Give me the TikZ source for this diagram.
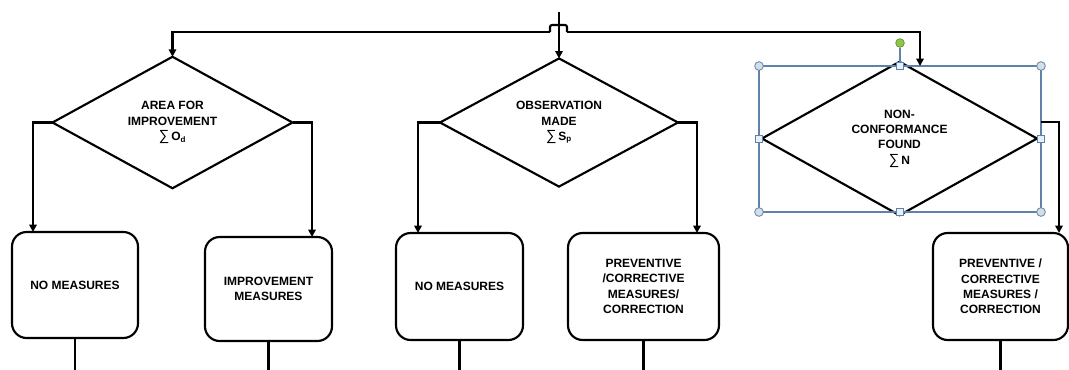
\documentclass[tikz,border=0pt]{standalone}
\usepackage{fontspec}
\setmainfont{Liberation Sans}
\usetikzlibrary{shapes.geometric,arrows.meta}

\definecolor{selblue}{RGB}{96,130,170}
\definecolor{handlefill}{RGB}{208,224,230}
\definecolor{handlesq}{RGB}{232,240,248}
\definecolor{rotgreen}{RGB}{140,200,70}

\newcommand{\sumsign}{{\mdseries\fontsize{11}{11.5}\selectfont ∑}}

\tikzset{
  lbl/.style={align=center, font=\fontsize{9}{11.5}\selectfont\bfseries},
  decision/.style={lbl, shape=diamond, draw=black, line width=1.6pt,
    inner sep=0pt, outer sep=0pt},
  action/.style={lbl, shape=rectangle, draw=black, line width=1.6pt,
    rounded corners=11pt, inner sep=0pt, outer sep=0pt},
  flow/.style={draw=black, line width=1.6pt,
    -{Triangle[length=5.5pt,width=5.5pt]}},
  plain/.style={draw=black, line width=1.6pt},
  selframe/.style={draw=selblue, line width=1.1pt, inner sep=0pt, outer sep=0pt,
    minimum width=211.5pt, minimum height=109.5pt},
  cornerhandle/.style={circle, draw=selblue!80!gray, fill=handlefill,
    line width=0.6pt, minimum size=6.5pt, inner sep=0pt},
  sidehandle/.style={rectangle, draw=selblue, fill=handlesq,
    line width=0.6pt, minimum size=5.5pt, inner sep=0pt},
  rothandle/.style={circle, draw=rotgreen!70!black, fill=rotgreen,
    line width=0.5pt, minimum size=6.5pt, inner sep=0pt}
}

\begin{document}
\begin{tikzpicture}[x=0.75pt,y=-0.75pt]
\useasboundingbox (0,0) rectangle (1069,369);

% decisions
\node[decision, minimum width=180pt, minimum height=83.25pt] (d1) at (172.5,122.5)
  {AREA FOR\\IMPROVEMENT\\\sumsign\,O\textsubscript{d}};
\node[decision, minimum width=178.5pt, minimum height=83.25pt] (d2) at (559,122.5)
  {OBSERVATION\\MADE\\\sumsign\,S\textsubscript{p}};
\node[decision, minimum width=206.25pt, minimum height=107.25pt] (d3) at (899.5,138.5)
  {NON-\\CONFORMANCE\\FOUND\\\sumsign\,N};

% selection frame around the third decision
\node[selframe] (sel) at (900,139) {};

% actions
\node[action, minimum width=94.5pt,  minimum height=79.5pt]  (b1) at (75,285)
  {NO MEASURES};
\node[action, minimum width=95.25pt, minimum height=78pt]    (b2) at (268.5,289)
  {IMPROVEMENT\\MEASURES};
\node[action, minimum width=95.25pt, minimum height=80.25pt] (b3) at (459.5,286.5)
  {NO MEASURES};
\node[action, minimum width=113.25pt, minimum height=80.25pt] (b4) at (643.5,286.5)
  {PREVENTIVE\\/CORRECTIVE\\MEASURES/\\CORRECTION};
\node[action, minimum width=101.25pt, minimum height=80.25pt] (b5) at (1000.5,286.5)
  {PREVENTIVE /\\CORRECTIVE\\MEASURES /\\CORRECTION};

% incoming line and distribution bus with a hop
\coordinate (top) at (559,12);
\coordinate (hopa) at (550,32);
\coordinate (hopb) at (567,32);
\coordinate (bot) at (0,372);

\draw[flow] (top) -- (d2.north);
\draw[plain, rounded corners=1.5pt] (hopb) -- ++(0,-7) -| (hopa);
\draw[flow] (hopa) -| (d1.north);
\draw[flow] (hopb) -| ([xshift=15pt]sel.north);

% branches
\draw[flow] (d1.west) -| ([xshift=15.75pt]b1.north west);
\draw[flow] (d1.east) -| ([xshift=-15pt]b2.north east);
\draw[flow] (d2.west) -| ([xshift=16.5pt]b3.north west);
\draw[flow] (d2.east) -| ([xshift=-16.5pt]b4.north east);
\draw[flow] ([yshift=12.75pt]sel.east) -| ([xshift=-6.75pt]b5.north east);

% outgoing lines
\foreach \b in {b1,b2,b3,b4,b5}
  \draw[plain] (\b.south) -- (\b.south |- bot);

% selection handles
\node[rothandle] (rot) at (900,43) {};
\draw[selblue, line width=1.1pt] (rot) -- (sel.north);
\foreach \a in {north west,north east,south west,south east}
  \node[cornerhandle] at (sel.\a) {};
\foreach \a in {north,south,east,west}
  \node[sidehandle] at (sel.\a) {};
\end{tikzpicture}
\end{document}
